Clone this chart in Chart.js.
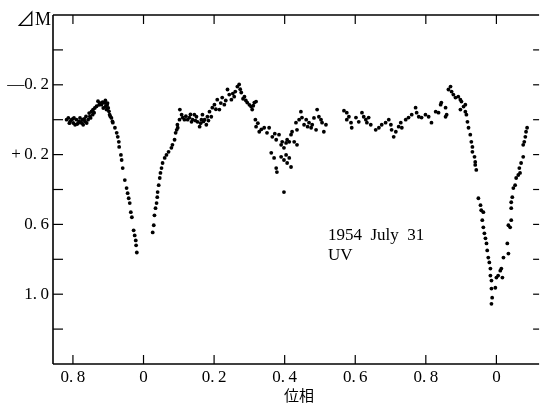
<!DOCTYPE html>
<html>
<head>
<meta charset="utf-8">
<script src="https://cdn.jsdelivr.net/npm/chart.js@4.4.1/dist/chart.umd.min.js"></script>
<style>
  html, body { margin: 0; padding: 0; background: #fff; }
  #wrap { width: 541px; height: 403px; }
</style>
</head>
<body>
<div id="wrap"><canvas id="lightCurve" width="541" height="403"></canvas></div>
<script>
// phase (continuous: 1.0 = primary minimum "0", 2.0 = next "0")
const phase = [
  0.782, 0.787, 0.790, 0.792, 0.796, 0.800, 0.801, 0.803, 0.806, 0.810,
  0.812, 0.815, 0.818, 0.820, 0.822, 0.825, 0.827, 0.829, 0.832, 0.834,
  0.837, 0.839, 0.843, 0.846, 0.848, 0.850, 0.853, 0.856, 0.857, 0.860,
  0.862, 0.867, 0.871, 0.874, 0.876, 0.881, 0.884, 0.886, 0.890, 0.892,
  0.893, 0.895, 0.897, 0.898, 0.900, 0.902, 0.904, 0.906, 0.909, 0.912,
  0.913, 0.919, 0.924, 0.927, 0.930, 0.931, 0.936, 0.938, 0.941, 0.947,
  0.952, 0.955, 0.958, 0.961, 0.964, 0.967, 0.972, 0.975, 0.978, 0.979,
  0.981,
  1.026, 1.029, 1.031, 1.034, 1.037, 1.039, 1.040, 1.043, 1.046, 1.048,
  1.051, 1.054, 1.060, 1.065, 1.071, 1.079, 1.082, 1.088, 1.091, 1.094,
  1.096, 1.097, 1.102, 1.103, 1.108, 1.111,
  1.116, 1.120, 1.125, 1.130, 1.133, 1.136, 1.139, 1.144, 1.147, 1.150,
  1.153, 1.159, 1.162, 1.164, 1.167, 1.170, 1.173, 1.178, 1.181, 1.184,
  1.187, 1.192, 1.195,
  1.201, 1.205, 1.209, 1.215, 1.219, 1.223, 1.229, 1.233, 1.238, 1.243,
  1.249, 1.253, 1.257, 1.260, 1.266, 1.271, 1.274, 1.277, 1.282, 1.286,
  1.290, 1.294, 1.300, 1.305, 1.308, 1.311, 1.314, 1.317, 1.319,
  1.319, 1.324, 1.328, 1.334, 1.342, 1.350, 1.356, 1.362, 1.365, 1.370,
  1.372, 1.376, 1.376, 1.378, 1.384, 1.390, 1.390, 1.393, 1.398, 1.398,
  1.398, 1.404, 1.404, 1.407, 1.407, 1.413, 1.413, 1.418, 1.418, 1.421,
  1.427, 1.432, 1.435, 1.435, 1.441, 1.446, 1.449, 1.455, 1.461, 1.465,
  1.469, 1.475, 1.478, 1.483, 1.489, 1.492, 1.497, 1.503, 1.506, 1.511,
  1.517,
  1.568, 1.576, 1.582, 1.576, 1.588, 1.590, 1.602, 1.610, 1.619, 1.624,
  1.630, 1.633, 1.638, 1.644, 1.658, 1.667, 1.675, 1.686, 1.695, 1.701,
  1.703, 1.709, 1.715, 1.723, 1.729, 1.732, 1.743, 1.751, 1.760, 1.771,
  1.774, 1.780, 1.788, 1.799, 1.808, 1.816, 1.828, 1.836, 1.842, 1.844,
  1.856, 1.856, 1.859, 1.864, 1.870, 1.873, 1.878, 1.884, 1.892, 1.898,
  1.901, 1.907, 1.912, 1.898, 1.912, 1.915,
  1.918, 1.921, 1.926, 1.929, 1.932, 1.932, 1.938, 1.940, 1.940, 1.943,
  1.949, 1.955, 1.957, 1.963, 1.960, 1.963, 1.966, 1.969, 1.972, 1.974,
  1.977, 1.980, 1.983, 1.983, 1.986, 1.986, 1.988, 1.986,
  1.997, 2.000, 2.005, 2.011, 2.014, 2.017, 2.020, 2.031, 2.034, 2.034,
  2.039, 2.042, 2.042, 2.042, 2.045, 2.048, 2.053, 2.056, 2.062, 2.065,
  2.067, 2.070, 2.076, 2.076, 2.079, 2.082, 2.084, 2.087
];

// magnitude difference (positive = fainter, plotted downward)
const deltaM = [
  0.000, -0.010, 0.020, 0.010, 0.000, -0.005, 0.019, -0.010, 0.029, 0.000,
  0.025, 0.019, 0.010, -0.010, 0.015, 0.019, 0.000, 0.029, -0.005, 0.010,
  -0.019, 0.019, 0.000, -0.038, -0.019, -0.010, -0.048, -0.029, -0.058, -0.040,
  -0.067, -0.077, -0.106, -0.085, -0.096, -0.086, -0.100, -0.067, -0.096, -0.110,
  -0.077, -0.058, -0.086, -0.095, -0.067, -0.048, -0.029, -0.019, -0.010, 0.010,
  0.017, 0.046, 0.075, 0.098, 0.127, 0.156, 0.202, 0.231, 0.277, 0.346,
  0.392, 0.421, 0.450, 0.478, 0.530, 0.559, 0.634, 0.663, 0.692, 0.720,
  0.761,
  0.646, 0.605, 0.548, 0.507, 0.478, 0.444, 0.415, 0.375, 0.334, 0.305,
  0.277, 0.248, 0.219, 0.202, 0.184, 0.161, 0.144, 0.115, 0.075, 0.058,
  0.029, 0.046, 0.000, -0.058, -0.029, -0.012,
  0.000, -0.020, 0.000, -0.012, -0.030, 0.012, 0.000, -0.029, 0.005, -0.017,
  0.012, 0.040, 0.020, 0.000, -0.029, 0.010, 0.000, 0.029, -0.017, 0.005,
  -0.046, -0.017, -0.069,
  -0.086, -0.060, -0.115, -0.058, -0.095, -0.127, -0.086, -0.110, -0.173, -0.144,
  -0.115, -0.150, -0.132, -0.161, -0.190, -0.202, -0.175, -0.156, -0.120, -0.132,
  -0.110, -0.098, -0.085, -0.075, -0.058, -0.080, -0.098, 0.000, -0.104,
  0.040, 0.020, 0.069, 0.055, 0.046, 0.075, 0.046, 0.190, 0.098, 0.219,
  0.080, 0.115, 0.277, 0.300, 0.086, 0.144, 0.213, 0.127, 0.161, 0.231,
  0.415, 0.133, 0.202, 0.115, 0.248, 0.127, 0.219, 0.086, 0.271, 0.069,
  0.127, 0.017, 0.058, 0.144, 0.000, -0.046, -0.012, 0.029, 0.000, 0.040,
  0.017, 0.046, 0.029, -0.010, 0.058, -0.058, -0.017, 0.000, 0.017, 0.069,
  0.029,
  -0.052, -0.040, -0.017, 0.000, 0.017, 0.046, -0.012, 0.012, -0.040, -0.017,
  0.000, 0.017, -0.012, 0.029, 0.058, 0.046, 0.029, 0.017, 0.000, 0.029,
  0.058, 0.098, 0.069, 0.040, 0.017, 0.046, 0.000, -0.012, -0.029, -0.069,
  -0.040, -0.017, -0.012, -0.029, -0.017, 0.017, -0.046, -0.040, -0.086, -0.098,
  -0.069, -0.017, -0.029, -0.173, -0.190, -0.161, -0.144, -0.127, -0.132, -0.115,
  -0.104, -0.075, -0.086, -0.058, -0.046, -0.029,
  0.012, 0.046, 0.086, 0.127, 0.156, 0.184, 0.213, 0.242, 0.259, 0.288,
  0.450, 0.490, 0.519, 0.530, 0.576, 0.617, 0.651, 0.680, 0.709, 0.749,
  0.790, 0.818, 0.853, 0.893, 0.922, 0.968, 1.020, 1.055,
  0.963, 0.905, 0.893, 0.865, 0.853, 0.905, 0.790, 0.709, 0.767, 0.605,
  0.617, 0.576, 0.507, 0.473, 0.444, 0.392, 0.375, 0.334, 0.317, 0.277,
  0.305, 0.248, 0.213, 0.144, 0.127, 0.098, 0.069, 0.046
];

// axis ticks (labels keep the printed spacing "0. 2")
const xTickValues = [0.8, 1.0, 1.2, 1.4, 1.6, 1.8, 2.0];
const xTickLabels = ['0.\u20098', '0', '0.\u20092', '0.\u20094', '0.\u20096', '0.\u20098', '0'];
const yTickValues = [-0.2, 0.2, 0.6, 1.0];
const yTickLabels = ['\u20140.\u20092', '+\u20090.\u20092', '0.\u20096', '1.\u20090'];
const yMarkValues = [-0.4, -0.2, 0, 0.2, 0.4, 0.6, 0.8, 1.0, 1.2];

const serif = "'Liberation Serif', 'DejaVu Serif', serif";

// frame, inward ticks and labels
const framePlugin = {
    id: 'frame',
    afterDraw(chart) {
        const { ctx, chartArea: a, scales: { x, y } } = chart;
        const line = (x1, y1, x2, y2) => {
            ctx.beginPath(); ctx.moveTo(x1, y1); ctx.lineTo(x2, y2); ctx.stroke();
        };
        ctx.save();
        ctx.strokeStyle = '#000';
        ctx.lineWidth = 1.6;
        line(a.left, a.top, a.right, a.top);
        line(a.left, a.top, a.left, a.bottom);
        line(a.left, a.bottom, a.right, a.bottom);

        ctx.lineWidth = 1.2;
        xTickValues.forEach(v => {
            const px = x.getPixelForValue(v);
            line(px, a.bottom, px, a.bottom - 9);
            line(px, a.top, px, a.top + 9);
        });
        yMarkValues.forEach(v => {
            const py = y.getPixelForValue(v);
            line(a.left, py, a.left + 10, py);
            line(a.right - 6, py, a.right, py);
        });

        ctx.fillStyle = '#000';
        ctx.textBaseline = 'alphabetic';
        ctx.textAlign = 'right';
        ctx.font = '18px ' + serif;
        ctx.fillText('M', a.left - 2, 25);
        const mW = ctx.measureText('M').width;
        ctx.font = "19px 'Noto Sans CJK JP', 'DejaVu Sans', sans-serif";
        ctx.fillText('\u22BF', a.left - 2 - mW, 26);

        ctx.textAlign = 'left';
        ctx.font = '17px ' + serif;
        ctx.fillText('1954  July  31', 328, 240);
        ctx.fillText('UV', 328, 260);

        ctx.textAlign = 'center';
        ctx.font = "15px 'Noto Sans CJK JP', sans-serif";
        ctx.fillText('位相', 299, 401);
        ctx.restore();
    }
};

new Chart(document.getElementById('lightCurve'), {
    type: 'scatter',
    data: {
        datasets: [{
            data: phase.map((p, i) => ({ x: p, y: deltaM[i] })),
            backgroundColor: '#000',
            borderWidth: 0,
            pointRadius: 1.9,
            pointHoverRadius: 1.9
        }]
    },
    options: {
        responsive: false,
        animation: false,
        devicePixelRatio: 1,
        layout: { padding: { top: 15, right: 0, bottom: 0, left: 0 } },
        plugins: {
            legend: { display: false },
            tooltip: { enabled: false }
        },
        scales: {
            x: {
                type: 'linear',
                min: 0.7435,
                max: 2.121,
                grid: { display: false, drawTicks: false },
                border: { display: false },
                afterBuildTicks: axis => { axis.ticks = xTickValues.map(v => ({ value: v })); },
                afterFit: axis => { axis.height = 39; },
                ticks: {
                    autoSkip: false,
                    maxRotation: 0,
                    padding: 3,
                    color: '#000',
                    font: { family: serif, size: 17 },
                    callback: (val, i) => xTickLabels[i]
                }
            },
            y: {
                type: 'linear',
                reverse: true,
                min: -0.6,
                max: 1.4,
                grid: { display: false, drawTicks: false },
                border: { display: false },
                afterBuildTicks: axis => { axis.ticks = yTickValues.map(v => ({ value: v })); },
                afterFit: axis => { axis.width = 53; },
                ticks: {
                    padding: 4,
                    color: '#000',
                    font: { family: serif, size: 17 },
                    callback: (val, i) => yTickLabels[i]
                }
            }
        }
    },
    plugins: [framePlugin]
});
</script>
</body>
</html>
